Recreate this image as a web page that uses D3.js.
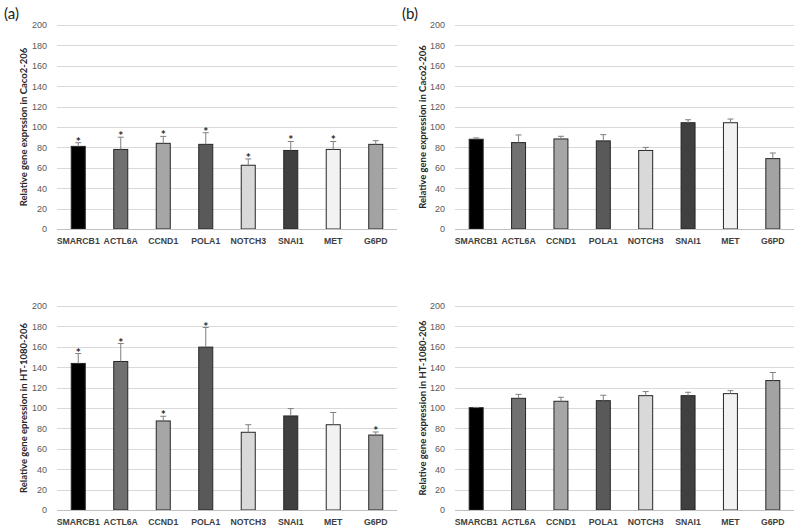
<!DOCTYPE html>
<html>
<head>
<meta charset="utf-8">
<script src="https://cdn.jsdelivr.net/npm/d3@7"></script>
<style>
  body { margin: 0; background: #fff; }
  svg { font-family: Lato, "Open Sans", sans-serif; }
</style>
</head>
<body>
<div id="chart"></div>
<script>
var genes = ["SMARCB1", "ACTL6A", "CCND1", "POLA1", "NOTCH3", "SNAI1", "MET", "G6PD"];
var barFills = ["#000000", "#707070", "#a6a6a6", "#595959", "#d9d9d9", "#404040", "#f2f2f2", "#a3a3a3"];
var yTicks = [0, 20, 40, 60, 80, 100, 120, 140, 160, 180, 200];

// (a) Caco2-206
var caco2A = [81, 78, 84, 83, 62.5, 77, 78, 83];
var caco2AErr = [3.6, 12, 6.8, 11.4, 6.2, 8.8, 7.8, 3.6];
var caco2ASig = [1, 1, 1, 1, 1, 1, 1, 0];
// (b) Caco2-206
var caco2B = [88, 84.7, 88.3, 86.4, 77, 104.2, 104.2, 69];
var caco2BErr = [1.3, 7.5, 2.6, 6.1, 3, 2.9, 3.6, 5.5];
var caco2BSig = [0, 0, 0, 0, 0, 0, 0, 0];
// (a) HT-1080-206
var htA = [143.7, 145.6, 87.3, 159.7, 76.2, 92.2, 83.6, 73.5];
var htAErr = [9.7, 17.6, 4.6, 19.2, 7.4, 7.2, 12, 3];
var htASig = [1, 1, 1, 1, 0, 0, 0, 1];
// (b) HT-1080-206
var htB = [100.3, 109.5, 106.6, 107.2, 112.1, 112.1, 114.1, 126.9];
var htBErr = [0.3, 3.9, 3.9, 5.3, 4, 3.3, 2.9, 7.9];
var htBSig = [0, 0, 0, 0, 0, 0, 0, 0];

var width = 799, height = 528;

var svg = d3.select("#chart").append("svg")
  .attr("width", width)
  .attr("height", height);

var panels = [
  {x0: 57, x1: 397, y0: 25, y1: 229, vals: caco2A, err: caco2AErr, sig: caco2ASig,
   title: "Relative gene exprssion in Caco2-206", titleX: 25},
  {x0: 455, x1: 794, y0: 25, y1: 229, vals: caco2B, err: caco2BErr, sig: caco2BSig,
   title: "Relative gene expression in Caco2-206", titleX: 424},
  {x0: 57, x1: 397, y0: 306, y1: 510, vals: htA, err: htAErr, sig: htASig,
   title: "Relative gene epression in HT-1080-206", titleX: 25},
  {x0: 455, x1: 794, y0: 306, y1: 510, vals: htB, err: htBErr, sig: htBSig,
   title: "Relative gene expression in HT-1080-206", titleX: 424}
];

panels.forEach(function(p) {
  var x = d3.scaleBand().domain(genes).range([p.x0, p.x1]).paddingInner(0.67).paddingOuter(0.335);
  var y = d3.scaleLinear().domain([0, 200]).range([p.y1, p.y0]);
  var g = svg.append("g");

  // gridlines
  g.selectAll(".grid").data(yTicks.slice(1)).enter().append("line")
    .attr("x1", p.x0).attr("x2", p.x1)
    .attr("y1", function(d) { return Math.round(y(d)) + 0.5; })
    .attr("y2", function(d) { return Math.round(y(d)) + 0.5; })
    .attr("stroke", "#d9d9d9").attr("stroke-width", 1);

  // y axis labels
  var yAxis = d3.axisLeft(y).tickValues(yTicks).tickSize(0).tickPadding(0);
  var ya = g.append("g").attr("transform", "translate(" + (p.x0 - 10) + ",0)").call(yAxis);
  ya.select(".domain").remove();
  ya.selectAll("text").attr("fill", "#595959").style("font-size", "9px");

  // bars
  g.selectAll(".bar").data(genes).enter().append("rect")
    .attr("x", function(d) { return x(d); })
    .attr("width", x.bandwidth())
    .attr("y", function(d, i) { return y(p.vals[i]); })
    .attr("height", function(d, i) { return y(0) - y(p.vals[i]); })
    .attr("fill", function(d, i) { return barFills[i]; })
    .attr("stroke", "#262626").attr("stroke-width", 1);

  // error bars (upper only)
  var cx = function(d) { return x(d) + x.bandwidth() / 2; };
  g.selectAll(".err").data(genes).enter().append("line")
    .attr("x1", cx).attr("x2", cx)
    .attr("y1", function(d, i) { return y(p.vals[i]); })
    .attr("y2", function(d, i) { return y(p.vals[i] + p.err[i]); })
    .attr("stroke", "#7f7f7f").attr("stroke-width", 1);
  g.selectAll(".cap").data(genes).enter().append("line")
    .attr("x1", function(d) { return cx(d) - 3; })
    .attr("x2", function(d) { return cx(d) + 3; })
    .attr("y1", function(d, i) { return y(p.vals[i] + p.err[i]); })
    .attr("y2", function(d, i) { return y(p.vals[i] + p.err[i]); })
    .attr("stroke", "#7f7f7f").attr("stroke-width", 1);

  // significance stars
  g.selectAll(".star").data(genes.filter(function(d, i) { return p.sig[i]; })).enter().append("text")
    .attr("x", cx)
    .attr("y", function(d) { var i = genes.indexOf(d); return y(p.vals[i] + p.err[i]) + 3; })
    .attr("text-anchor", "middle")
    .attr("fill", "#262626")
    .style("font-size", "12px").style("font-weight", "bold")
    .text("*");

  // baseline
  g.append("line")
    .attr("x1", p.x0).attr("x2", p.x1)
    .attr("y1", Math.round(y(0)) + 0.5).attr("y2", Math.round(y(0)) + 0.5)
    .attr("stroke", "#bfbfbf");

  // category labels
  var xAxis = d3.axisBottom(x).tickSize(0).tickPadding(0);
  var xa = g.append("g").attr("transform", "translate(0," + (p.y1 + 9) + ")").call(xAxis);
  xa.select(".domain").remove();
  xa.selectAll("text").attr("fill", "#404040")
    .style("font-size", "8.7px").style("font-weight", "bold");

  // y title
  g.append("text")
    .attr("transform", "translate(" + p.titleX + "," + ((p.y0 + p.y1) / 2) + ") rotate(-90)")
    .attr("text-anchor", "middle")
    .attr("dominant-baseline", "middle")
    .attr("fill", "#262626")
    .style("font-size", "9.5px").style("font-weight", "bold")
    .text(p.title);
});

svg.append("text").attr("x", 4).attr("y", 19).style("font-size", "15px").attr("fill", "#222").text("(a)");
svg.append("text").attr("x", 402).attr("y", 19).style("font-size", "15px").attr("fill", "#222").text("(b)");
</script>
</body>
</html>
